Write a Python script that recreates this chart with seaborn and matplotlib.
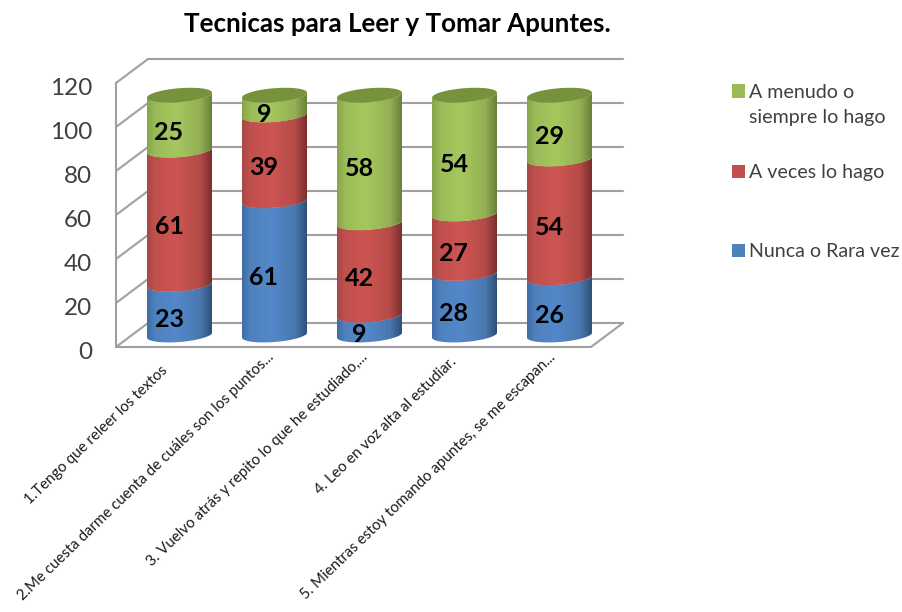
# Tecnicas para Leer y Tomar Apuntes - stacked "3D" cylinders
import numpy as np
import pandas as pd
import matplotlib
matplotlib.use("Agg")
import matplotlib.pyplot as plt
import seaborn as sns
from matplotlib.colors import LinearSegmentedColormap
from matplotlib.patches import Rectangle
from matplotlib.path import Path
from matplotlib.transforms import ScaledTranslation

# =========================
# Data
# =========================
categories = [
    "1.Tengo que releer los textos",
    "2.Me cuesta darme cuenta de cuáles son los puntos...",
    "3. Vuelvo atrás y repito lo que he estudiado,...",
    "4. Leo en voz alta al estudiar.",
    "5. Mientras estoy tomando apuntes, se me escapan...",
]
nunca = [23, 61, 9, 28, 26]
a_veces = [61, 39, 42, 27, 54]
a_menudo = [25, 9, 58, 54, 29]
y_ticks = [0, 20, 40, 60, 80, 100, 120]

series_names = ["Nunca o Rara vez", "A veces lo hago", "A menudo o\nsiempre lo hago"]
series_values = [nunca, a_veces, a_menudo]

# left edge, light, centre, right edge of each cylinder colour
shade_stops = [0, 0.12, 0.45, 0.82, 1]
blue_shades = ["#3f6da6", "#4f81bd", "#5388ca", "#4a78b0", "#2f5178"]
red_shades = ["#a94744", "#c0504d", "#cd5552", "#b54b48", "#7c302e"]
green_shades = ["#86a64a", "#9bbb59", "#a5c85e", "#93b054", "#68833a"]
series_shades = [blue_shades, red_shades, green_shades]
cap_colour = "#76923c"
wall_colour = "#a0a0a0"
text_colour = "#404040"

# =========================
# Figure set up
# =========================
sns.set_theme(style="white")
plt.rcParams["font.family"] = ["Lato", "DejaVu Sans"]

W, H = 903, 612
PX_X = 1 / 95   # one pixel in category units
PX_Y = 1 / 2.2  # one pixel in value units
X_LIM = (-0.8, 4.8)
Y_LIM = (-20, 140)

fig = plt.figure(figsize=(W / 100, H / 100), dpi=100, facecolor="white")
left = 179.5 - 0.8 * 95
bottom = 335 + 20 * 2.2
ax = fig.add_axes([left / W, 1 - bottom / H, 5.6 * 95 / W, 160 * 2.2 / H])

df = pd.DataFrame({"categoria": categories})


def arc(cx, base, t):
    # tilted ellipse around a bar centre, the right side sits higher
    xs = cx + 32.5 * np.cos(t) * PX_X
    ys = base + (7 * np.sin(t) + 2.5 * np.cos(t)) * PX_Y
    return xs, ys


# =========================
# Stacked cylinders
# =========================
t_low = np.linspace(np.pi, 2 * np.pi, 60)
t_full = np.linspace(0, 2 * np.pi, 120)
stack = np.zeros(len(categories))

for i, values in enumerate(series_values):
    df["valor"] = values
    before = len(ax.patches)
    sns.barplot(data=df, x="categoria", y="valor", order=categories, bottom=stack,
                color=series_shades[i][1], saturation=1, width=65 / 95, ax=ax,
                zorder=3 + i, errorbar=None)
    cmap = LinearSegmentedColormap.from_list("cyl", list(zip(shade_stops, series_shades[i])))
    shade = cmap(np.linspace(0, 1, 130))[np.newaxis, :, :3]

    for bar in ax.patches[before:]:
        cx = bar.get_x() + bar.get_width() / 2
        y0, y1 = bar.get_y(), bar.get_y() + bar.get_height()
        x_a, y_a = arc(cx, y0, t_low)
        x_b, y_b = arc(cx, y1, t_low)
        verts = np.vstack([np.column_stack([x_a, y_a]),
                           np.column_stack([x_b[::-1], y_b[::-1]]),
                           [[x_a[0], y_a[0]]]])
        shape = Path(verts)
        bar.set_clip_path(shape, ax.transData)
        im = ax.imshow(shade, aspect="auto", zorder=3 + i, interpolation="bilinear",
                       extent=[bar.get_x(), bar.get_x() + bar.get_width(),
                               y0 - 10 * PX_Y, y1 + 10 * PX_Y])
        im.set_clip_path(shape, ax.transData)

        # value in the middle of the segment
        ax.annotate(str(int(round(bar.get_height()))), (cx, (y0 + y1) / 2),
                    xytext=(-10.5 * 0.72, -9.5 * 0.72), textcoords="offset points",
                    ha="center", va="center", fontsize=18, fontweight="bold",
                    color="black", zorder=12)

    stack = stack + np.array(values)

# top of each cylinder
for k, top in enumerate(stack):
    xs, ys = arc(k, top, t_full)
    ax.fill(xs, ys, color=cap_colour, lw=0, zorder=10)

# =========================
# Walls and grid
# =========================
dx = 16 * PX_X
dy = 12 * PX_Y
x_front, x_end = -0.5 - dx, 4.5 + dx
for v in y_ticks:
    ax.plot([-0.5 - dx, -0.5 + dx, 4.5 + dx], [v - dy, v + dy, v + dy],
            color=wall_colour, lw=1.5, zorder=1, solid_capstyle="round")
ax.plot([x_front, x_front], [y_ticks[0] - dy, y_ticks[-1] - dy], color=wall_colour, lw=1.5, zorder=1)
ax.plot([x_front, 4.5 - dx, x_end], [-dy, -dy, dy], color=wall_colour, lw=1.5, zorder=1)

# =========================
# Axes
# =========================
ax.set_xlim(*X_LIM)
ax.set_ylim(*Y_LIM)
ax.set_xlabel("")
ax.set_ylabel("")
ax.set_yticks(y_ticks)
ax.set_yticklabels([str(v) for v in y_ticks], fontsize=17.5, color=text_colour)
ax.tick_params(axis="y", length=0, pad=8.3)
ax.tick_params(axis="x", length=0, pad=-13)
ax.set_xticks(range(len(categories)))
ax.set_xticklabels(categories, rotation=44, ha="right", va="top",
                   rotation_mode="anchor", fontsize=10.8, color="#1a1a1a")
sns.despine(ax=ax, left=True, bottom=True)

shift = ScaledTranslation(0, -15.5 / 100, fig.dpi_scale_trans)
for lab in ax.get_yticklabels():
    lab.set_transform(lab.get_transform() + shift)

# the long labels do not end at the same distance from their tick
x_label_dx = [-19, -8, -9, -15, -11]
x_label_dy = [-2, 11, 11, 6, 11]
for lab, px, py in zip(ax.get_xticklabels(), x_label_dx, x_label_dy):
    lab.set_transform(lab.get_transform() + ScaledTranslation(px / 100, py / 100, fig.dpi_scale_trans))

fig.text(397 / W, 1 - 24 / H, "Tecnicas para Leer y Tomar Apuntes.", ha="center", va="center",
         fontsize=18.7, fontweight="bold", color="black")

# =========================
# Legend
# =========================
legend_rows = [250, 171, 91]
for i, name in enumerate(series_names):
    y = legend_rows[i]
    fig.patches.append(Rectangle((732 / W, 1 - (y + 6.5) / H), 13 / W, 13 / H, transform=fig.transFigure,
                                 facecolor=series_shades[i][1], edgecolor="none"))
    fig.text(749 / W, 1 - (y - 7) / H, name, ha="left", va="top", fontsize=14.1,
             color=text_colour, linespacing=1.55)

fig.savefig("out.png", dpi=100)
